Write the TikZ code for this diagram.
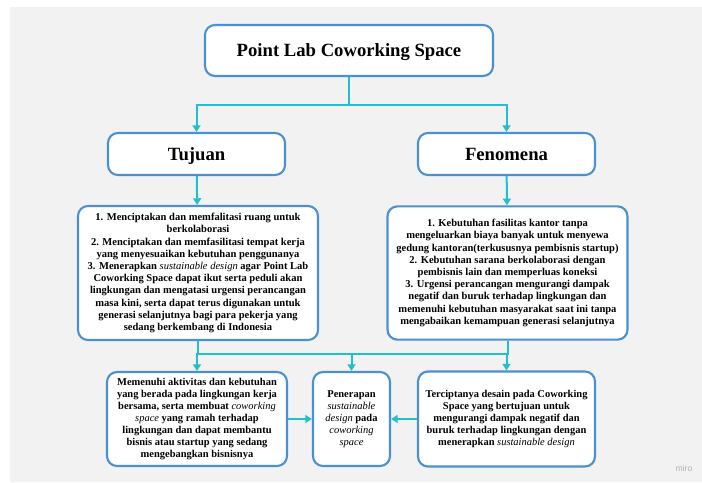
\documentclass[tikz,border=0pt]{standalone}
\usepackage{fontspec}
\setmainfont{Liberation Serif}
\newfontfamily\mirofont{Liberation Sans}
\usetikzlibrary{arrows.meta}
\definecolor{boxblue}{HTML}{4A90D2}
\definecolor{linkcyan}{HTML}{22BFCF}
\definecolor{paper}{HTML}{F2F2F2}
\newcommand{\ital}[1]{{\mdseries\itshape #1}}

\begin{document}
\begin{tikzpicture}[x=0.75pt,y=-0.75pt]
  \tikzset{box/.style={draw=boxblue,fill=white,line width=1.6pt,rounded corners=7.5pt,align=center,inner sep=2pt}}
  \tikzset{head/.style={box,text depth=0pt,font=\bfseries\fontsize{14}{16}\selectfont}}
  \tikzset{list/.style={box,font=\bfseries\fontsize{7.9}{9.15}\selectfont}}
  \tikzset{result/.style={box,font=\bfseries\fontsize{7.85}{9}\selectfont}}
  \tikzset{link/.style={-{Triangle[length=5pt,width=6pt]},color=linkcyan,line width=1.5pt}}
  \tikzset{joint/.style={color=linkcyan,line width=1.5pt}}
  \useasboundingbox (0,0) rectangle (702,482);
  \fill[white] (0,0) rectangle (702,482);
  \fill[paper] (10,7) rectangle (702,482);
  \node[head,minimum width=216pt,minimum height=38.25pt] (point) at (349,50.5) {Point Lab Coworking Space};
  \node[head,minimum width=132.75pt,minimum height=31.5pt] (tujuan) at (196.5,154) {Tujuan};
  \node[head,minimum width=132.75pt,minimum height=31.5pt] (fenomena) at (506.5,154) {Fenomena};
  \node[list,minimum width=180pt,minimum height=100.5pt] (tujList) at (198,273) {1. Menciptakan dan memfalitasi ruang untuk\\ berkolaborasi\\ 2. Menciptakan dan memfasilitasi tempat kerja\\ yang menyesuaikan kebutuhan penggunanya\\ 3. Menerapkan \ital{sustainable design} agar Point Lab\\ Coworking Space dapat ikut serta peduli akan\\ lingkungan dan mengatasi urgensi perancangan\\ masa kini, serta dapat terus digunakan untuk\\ generasi selanjutnya bagi para pekerja yang\\ sedang berkembang di Indonesia};
  \node[list,minimum width=180pt,minimum height=100pt] (fenList) at (507.5,273) {1. Kebutuhan fasilitas kantor tanpa\\ mengeluarkan biaya banyak untuk menyewa\\ gedung kantoran(terkususnya pembisnis startup)\\ 2. Kebutuhan sarana berkolaborasi dengan\\ pembisnis lain dan memperluas koneksi\\ 3. Urgensi perancangan mengurangi dampak\\ negatif dan buruk terhadap lingkungan dan\\ memenuhi kebutuhan masyarakat saat ini tanpa\\ mengabaikan kemampuan generasi selanjutnya};
  \node[result,minimum width=135pt,minimum height=70.5pt] (memenuhi) at (197,419) {Memenuhi aktivitas dan kebutuhan\\ yang berada pada lingkungan kerja\\ bersama, serta membuat \ital{coworking}\\ \ital{space} yang ramah terhadap\\ lingkungan dan dapat membantu\\ bisnis atau startup yang sedang\\ mengebangkan bisnisnya};
  \node[result,minimum width=57.75pt,minimum height=70.5pt] (penerapan) at (351.5,419) {Penerapan\\ \ital{sustainable}\\ \ital{design} pada\\ \ital{coworking}\\ \ital{space}};
  \node[result,minimum width=132.75pt,minimum height=71.25pt] (terciptanya) at (506.5,419) {Terciptanya desain pada Coworking\\ Space yang bertujuan untuk\\ mengurangi dampak negatif dan\\ buruk terhadap lingkungan dengan\\ menerapkan \ital{sustainable design}};
  \node[text=black!30,font=\mirofont\fontsize{6.5}{7}\selectfont] (miro) at (684,468) {miro};
  \coordinate (split) at (349,105);
  \coordinate (merge) at (351.5,354);
  \draw[joint] (point) -- (split);
  \draw[link] (split) -| (tujuan);
  \draw[link] (split) -| (fenomena);
  \draw[link] (tujuan) -- (tujList);
  \draw[link] (fenomena) -- (fenList);
  \draw[joint] (tujList.south) |- (merge) -| (fenList.south);
  \draw[link] (merge) -| (memenuhi);
  \draw[link] (merge) -- (penerapan);
  \draw[link] (merge) -| (terciptanya);
  \draw[link] (memenuhi) -- (penerapan);
  \draw[link] (terciptanya) -- (penerapan);
\end{tikzpicture}
\end{document}
